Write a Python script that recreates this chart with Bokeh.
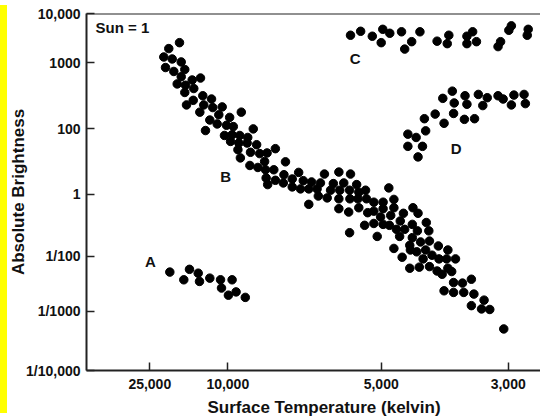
import numpy as np
from bokeh.plotting import figure
from bokeh.models import (Range1d, FixedTicker, Span, Label, ColumnDataSource,
                          GlobalInlineStyleSheet, Title)
from bokeh.core.properties import value
from bokeh.embed import file_html
from bokeh.resources import INLINE

# ---------------- tick values / labels ----------------
TEMP_TICKS = [25000, 10000, 5000, 3000]
TEMP_TICK_LABELS = ["25,000", "10,000", "5,000", "3,000"]
LUM_TICKS_LOG = [-4, -3, -2, 0, 2, 3, 4]
LUM_TICK_LABELS = ["1/10,000", "1/1000", "1/100", "1", "100", "1000", "10,000"]

# ---------------- data (temperature K, log10 brightness, Sun = 1) ----------------
# B: main sequence
main_temp = [19290, 21350, 22310, 20690, 18960, 21980, 20380, 18270, 18960, 16850,
             15250, 19730, 18130, 16540, 18270, 14810, 13130, 16650, 17940, 14620,
             12890, 11080, 15380, 11730, 9560, 9940, 13460, 12040, 10250, 9820,
             14290, 9170, 10640, 9860, 9610, 9350, 9910, 9640, 9370, 9060,
             9670, 9260, 8960, 8720, 9590, 9280, 9020, 8770, 8450, 8800,
             8120, 8500, 8750, 8700, 8450, 8170, 8190, 7900, 7690, 7540,
             7900, 7630, 7270, 7360, 6980, 6850, 7090, 7050, 7360, 6760,
             6560, 6380, 6220, 6000, 5800, 6650, 6350, 6030, 6380, 6020,
             6380, 6060, 5760, 5510, 5480, 5730, 5440, 5540, 6030, 5730,
             4880, 5240, 4970, 4800, 4800, 4970, 5240, 4850, 4650, 4500,
             4420, 4700, 5020, 5240, 4970, 4870, 4760, 4630, 4510, 4430,
             4290, 4250, 4710, 5130, 4510, 4380, 4240, 4550, 4800, 4540,
             4440, 4300, 4100, 3950, 4200, 4340, 4670, 4090, 3970, 3830,
             4240, 4400, 4550, 4120, 4040, 3950, 3860, 3890, 3720, 3580,
             4010, 3860, 3700, 3540, 3380, 3580, 3420, 3290, 3070]
main_loglum = [3.41, 3.29, 3.12, 3.08, 3.02, 2.93, 2.87, 2.90, 2.79, 2.74,
               2.77, 2.68, 2.66, 2.61, 2.55, 2.50, 2.45, 2.43, 2.36, 2.36,
               2.32, 2.33, 2.25, 2.21, 2.25, 2.17, 2.13, 2.07, 2.05, 2.03,
               1.94, 1.99, 1.79, 1.81, 1.79, 1.73, 1.61, 1.56, 1.56, 1.51,
               1.36, 1.28, 1.24, 1.26, 1.11, 0.88, 0.82, 0.75, 1.39, 1.00,
               0.99, 0.75, 0.50, 0.30, 0.43, 0.60, 0.35, 0.47, 0.67, 0.42,
               0.23, 0.17, 0.38, 0.17, 0.35, 0.62, 0.17, -0.05, -0.32, -0.11,
               0.33, 0.68, 0.35, 0.62, 0.30, 0.13, 0.13, 0.13, -0.14, -0.14,
               -0.46, -0.57, -0.14, 0.13, -0.14, -0.43, -0.59, -1.00, -1.24, 0.07,
               0.20, -0.25, -0.25, -0.16, -0.43, -0.46, -0.54, -0.68, -0.61, -0.43,
               -0.61, -0.86, -0.73, -0.94, -0.97, -1.00, -1.13, -1.13, -0.97, -1.18,
               -0.91, -1.18, -1.36, -1.36, -1.40, -1.54, -1.51, -1.65, -1.75, -1.80,
               -1.86, -1.80, -1.67, -1.80, -1.97, -2.05, -2.02, -2.05, -2.05, -2.05,
               -2.19, -2.20, -2.22, -2.27, -2.33, -2.22, -2.48, -2.28, -2.49, -2.42,
               -2.63, -2.66, -2.66, -2.69, -2.80, -2.90, -2.96, -2.97, -3.30]

# C: supergiants
super_temp = [6000, 5670, 5290, 4975, 5000, 4865, 4680, 4520, 4630, 4390,
              4120, 3935, 3960, 3650, 3560, 3500, 3650, 3120, 3160, 2990,
              2950, 2685, 2700]
super_loglum = [3.56, 3.64, 3.54, 3.68, 3.41, 3.60, 3.63, 3.43, 3.28, 3.63,
                3.44, 3.56, 3.39, 3.54, 3.63, 3.43, 3.39, 3.43, 3.33, 3.66,
                3.75, 3.68, 3.56]

# D: giants
giant_temp = [4030, 3880, 3850, 3680, 3650, 3470, 3330, 3400, 3160, 3080,
              2910, 2950, 2750, 2730, 3860, 3690, 3530, 4150, 4320, 4010,
              4300, 4580, 4450, 4580, 4350, 4420]
giant_loglum = [2.46, 2.57, 2.39, 2.50, 2.37, 2.52, 2.47, 2.35, 2.50, 2.45,
                2.51, 2.36, 2.52, 2.38, 2.23, 2.14, 2.15, 2.22, 2.15, 2.08,
                1.93, 1.83, 1.73, 1.46, 1.46, 1.14]

# A: white dwarfs
dwarf_temp = [21150, 18460, 17370, 15690, 15440, 13460, 11400, 9860, 11210, 9980,
              9730, 9430]
dwarf_loglum = [-2.29, -2.43, -2.24, -2.31, -2.46, -2.40, -2.43, -2.43, -2.58, -2.71,
                -2.65, -2.75]

# group letters (temperature, log brightness)
group_labels = ["A", "B", "C", "D"]
group_temp = [24870, 10390, 5850, 3820]
group_loglum = [-2.09, 0.54, 3.09, 1.39]

# ---------------- schematic axis layout (non-uniform scales, frame px) ----------------
TEMP_TICK_POS = [63.3, 141.3, 294.7, 421.7]
LUM_TICK_POS = [0, 59.7, 115, 177, 243.3, 309.3, 359]
X_END = 454
Y_END = 359


def piecewise(v, anchors, pos):
    a = np.asarray(anchors, float)
    p = np.asarray(pos, float)
    v = np.atleast_1d(np.asarray(v, float))
    order = np.argsort(a)
    a, p = a[order], p[order]
    out = np.interp(v, a, p)
    lo, hi = v < a[0], v > a[-1]
    out[lo] = p[0] + (v[lo] - a[0]) * (p[1] - p[0]) / (a[1] - a[0])
    out[hi] = p[-1] + (v[hi] - a[-1]) * (p[-1] - p[-2]) / (a[-1] - a[-2])
    return out


def tx(t):
    return piecewise(t, TEMP_TICKS, TEMP_TICK_POS)


def ty(l):
    return piecewise(l, LUM_TICKS_LOG, LUM_TICK_POS)


FONT = "Liberation Sans"
INK = "#111111"

css = ("html, body {overflow: hidden;} "
       "body {background: #ffffff linear-gradient(#ffff00, #ffff00) 0 5px / 7px 408px no-repeat;}")

p = figure(width=540, height=420, output_backend="svg", toolbar_location=None,
           x_range=Range1d(0, X_END), y_range=Range1d(0, Y_END),
           min_border_left=86, min_border_right=0, min_border_top=13, min_border_bottom=48,
           background_fill_color="white", border_fill_color=None)
p.stylesheets = [GlobalInlineStyleSheet(css=css)]
p.outline_line_color = None
p.grid.visible = False

for ax in (p.xaxis[0], p.yaxis[0]):
    ax.axis_line_color = "#222222"
    ax.axis_line_width = 2
    ax.major_tick_line_color = "#222222"
    ax.major_tick_line_width = 1.5
    ax.major_tick_in = 8
    ax.major_tick_out = 0
    ax.minor_tick_line_color = None
    ax.major_label_text_font = FONT
    ax.major_label_text_font_style = "bold"
    ax.major_label_text_font_size = "14px"
    ax.major_label_text_color = INK

p.xaxis.ticker = FixedTicker(ticks=TEMP_TICK_POS)
p.xaxis.major_label_overrides = {float(k): v for k, v in zip(TEMP_TICK_POS, TEMP_TICK_LABELS)}
p.xaxis.major_label_standoff = 8
p.yaxis.ticker = FixedTicker(ticks=LUM_TICK_POS)
p.yaxis.major_label_overrides = {float(k): v for k, v in zip(LUM_TICK_POS, LUM_TICK_LABELS)}
p.yaxis.major_label_standoff = 6
p.yaxis.axis_label = "Absolute Brightness"
p.yaxis.axis_label_text_font = FONT
p.yaxis.axis_label_text_font_style = "bold"
p.yaxis.axis_label_text_font_size = "17px"
p.yaxis.axis_label_text_color = INK
p.yaxis.axis_label_standoff = -5

p.add_layout(Title(text="Surface Temperature (kelvin)", align="left", offset=121,
                   text_font=FONT, text_font_style="bold", text_font_size="17px",
                   text_color=INK, standoff=8), "below")

p.add_layout(Span(location=Y_END, dimension="width", line_color="#222222", line_width=2))

for temps, lums in ((main_temp, main_loglum), (super_temp, super_loglum),
                    (giant_temp, giant_loglum), (dwarf_temp, dwarf_loglum)):
    src = ColumnDataSource(dict(x=tx(temps), y=ty(lums)))
    p.scatter("x", "y", source=src, size=8.5, color="#000000", line_color="#000000")

gsrc = ColumnDataSource(dict(x=tx(group_temp), y=ty(group_loglum), t=group_labels))
p.text("x", "y", text="t", source=gsrc, text_font=value(FONT), text_font_style="bold",
       text_font_size="15px", text_align="center", text_baseline="middle", text_color=INK)

sx, sy = tx([35440])[0], ty([3.715])[0]
p.add_layout(Label(x=sx, y=sy, text="Sun = 1", text_font=FONT, text_font_style="bold",
                   text_font_size="15px", text_color=INK, text_align="left",
                   text_baseline="middle"))

open("out.html", "w").write(file_html(p, INLINE))
